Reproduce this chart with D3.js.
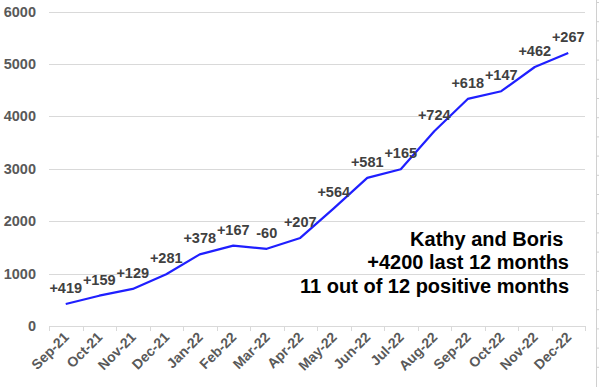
<!DOCTYPE html>
<html><head><meta charset="utf-8">
<script src="https://cdn.jsdelivr.net/npm/d3@7"></script>
<style>body{margin:0;background:#fff}svg{display:block}</style>
</head><body>
<svg id="c" width="599" height="387"></svg>
<script>
const months = ["Sep-21","Oct-21","Nov-21","Dec-21","Jan-22","Feb-22","Mar-22","Apr-22","May-22","Jun-22","Jul-22","Aug-22","Sep-22","Oct-22","Nov-22","Dec-22"];
const changes = [419,159,129,281,378,167,-60,207,564,581,165,724,618,147,462,267];
const yTicks = [0,1000,2000,3000,4000,5000,6000];
const noteLines = ["Kathy and Boris ","+4200 last 12 months","11 out of 12 positive months"];

let run = 0;
const totals = changes.map(c => (run += c));

const svg = d3.select("#c");
const m = {l:49, r:14, t:11.5, b:61};
const W = 599, H = 387;
const x = d3.scaleBand().domain(months).range([m.l, W - m.r]);
const y = d3.scaleLinear().domain([0,6000]).range([H - m.b, m.t]);
const font = "Liberation Sans, Arial, sans-serif";

// spreadsheet edge
svg.append("line").attr("x1",596.5).attr("x2",596.5).attr("y1",0).attr("y2",H).attr("stroke","#d0d0d0");
svg.append("g").selectAll("line").data(d3.range(20)).join("line")
  .attr("x1",597).attr("x2",599).attr("y1",(d)=>2.5+d*19.2).attr("y2",(d)=>2.5+d*19.2).attr("stroke","#d0d0d0");

// grid
svg.append("g").selectAll("line").data(yTicks.filter(d=>d>0)).join("line")
  .attr("x1",m.l).attr("x2",W-m.r).attr("y1",d=>Math.round(y(d))+0.5).attr("y2",d=>Math.round(y(d))+0.5)
  .attr("stroke","#d9d9d9").attr("stroke-width",1);

// y labels
svg.append("g").selectAll("text").data(yTicks).join("text")
  .attr("x",36).attr("y",d=>y(d)+5).attr("text-anchor","end")
  .attr("font-family",font).attr("font-weight","bold").attr("font-size",14.5).attr("fill","#595959")
  .text(d=>d);

// x axis
const xAxis = d3.axisBottom(x).tickSize(0).tickFormat("");
const ax = svg.append("g").attr("transform",`translate(0,${Math.round(y(0))+0.5})`).call(xAxis);
ax.select(".domain").attr("stroke","#d9d9d9").attr("d",`M${m.l},0H${W-m.r}`);
const bounds = months.map(mm=>x(mm)).concat([W-m.r]);
svg.append("g").selectAll("line").data(bounds).join("line")
  .attr("x1",d=>Math.round(d)+0.5).attr("x2",d=>Math.round(d)+0.5)
  .attr("y1",y(0)).attr("y2",y(0)+5).attr("stroke","#d9d9d9");

svg.append("g").selectAll("text").data(months).join("text")
  .attr("transform",d=>`translate(${x(d)+x.bandwidth()/2+4},${y(0)+12}) rotate(-45)`)
  .attr("text-anchor","end")
  .attr("font-family",font).attr("font-weight","bold").attr("font-size",14).attr("fill","#595959")
  .text(d=>d);

// line
const line = d3.line().x((d,i)=>x(months[i])+x.bandwidth()/2).y(d=>y(d));
svg.append("path").datum(totals).attr("d",line).attr("fill","none")
  .attr("stroke","#1f1fff").attr("stroke-width",2.2).attr("stroke-linejoin","round");

// annotations
svg.append("g").selectAll("text").data(totals).join("text")
  .attr("x",(d,i)=>x(months[i])+x.bandwidth()/2)
  .attr("y",d=>y(d)-11)
  .attr("text-anchor","middle")
  .attr("font-family",font).attr("font-weight","bold").attr("font-size",14.5).attr("fill","#404040")
  .text((d,i)=>(changes[i]>0?"+":"")+changes[i]);

// note
svg.append("g").selectAll("text").data(noteLines).join("text")
  .attr("x",569).attr("y",(d,i)=>246+i*23.3).attr("text-anchor","end")
  .attr("xml:space","preserve").style("white-space","pre")
  .attr("font-family",font).attr("font-weight","bold").attr("font-size",20).attr("fill","#000")
  .text(d=>d);
</script>
</body></html>
